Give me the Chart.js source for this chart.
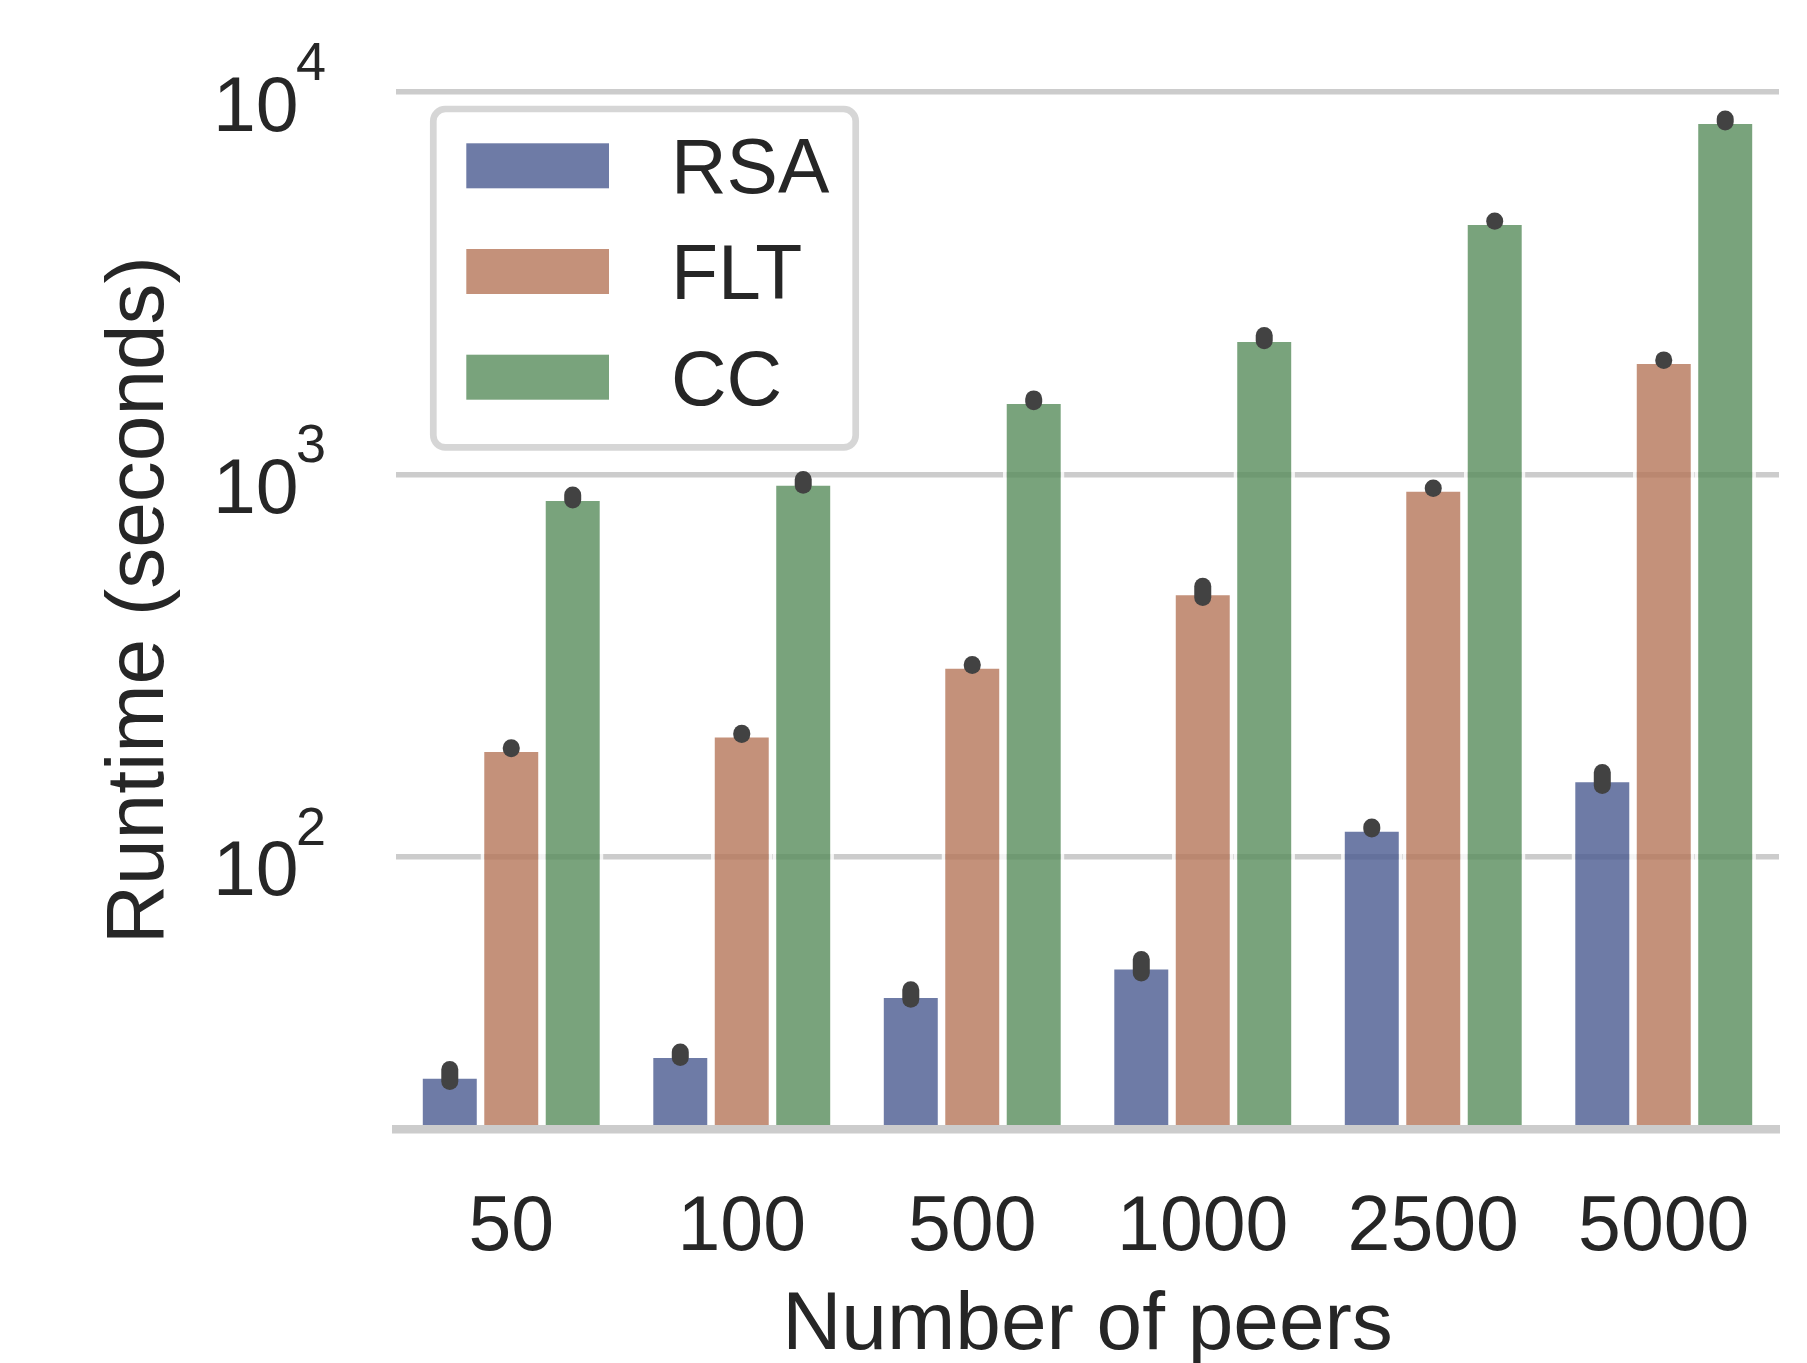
<!DOCTYPE html>
<html>
<head>
<meta charset="utf-8">
<script src="https://cdn.jsdelivr.net/npm/chart.js@4.4.1/dist/chart.umd.min.js"></script>
<style>
  html, body { margin: 0; padding: 0; background: #fff; }
  #wrap { width: 1807px; height: 1363px; }
</style>
</head>
<body>
<div id="wrap"><canvas id="runtime-chart" width="1807" height="1363"></canvas></div>
<script>
// x categories
const peers = ['50', '100', '500', '1000', '2500', '5000'];

// mean runtime (seconds) per series
const rsaMean = [26.8, 30.4, 43.6, 51.8, 118.7, 160.1];
const fltMean = [191.9, 209.5, 316.8, 493.9, 920, 1989];
const ccMean = [871, 954, 1563, 2271, 4594, 8443];

// error bar ends
const rsaLow = [25.8, 29.8, 42.3, 49.6, 118.0, 153.4];
const rsaHigh = [27.7, 30.8, 44.8, 53.8, 119.4, 165.9];
const fltLow = [191.5, 208.5, 316, 476, 918, 1985];
const fltHigh = [192.5, 210, 318, 509.7, 921, 1992];
const ccLow = [857, 936, 1547, 2234, 4590, 8354];
const ccHigh = [883, 968.5, 1575, 2306, 4600, 8505];

// y axis
const yTicks = [100, 1000, 10000];
const yMin = 19.31;
const yMax = 11366;

const family = '"Liberation Sans", Arial, Helvetica, sans-serif';
const textColor = '#262626';

// error bars drawn on top of the bars, through the chart's own scales
const errorBars = {
    id: 'errorBars',
    afterDatasetsDraw(chart) {
        const ctx = chart.ctx;
        const yScale = chart.scales.y;
        ctx.save();
        ctx.strokeStyle = '#424242';
        ctx.lineWidth = 17;
        ctx.lineCap = 'round';
        chart.data.datasets.forEach((ds, i) => {
            const meta = chart.getDatasetMeta(i);
            meta.data.forEach((bar, j) => {
                const y1 = yScale.getPixelForValue(ds.errLow[j]);
                const y2 = yScale.getPixelForValue(ds.errHigh[j]);
                ctx.beginPath();
                ctx.moveTo(bar.x, y1);
                ctx.lineTo(bar.x, y2);
                ctx.stroke();
            });
        });
        ctx.restore();
    }
};

// 10^n tick labels with a raised exponent
const logTickLabels = {
    id: 'logTickLabels',
    afterDraw(chart) {
        const ctx = chart.ctx;
        const scale = chart.scales.y;
        ctx.save();
        ctx.fillStyle = textColor;
        ctx.textAlign = 'left';
        ctx.textBaseline = 'alphabetic';
        scale.ticks.forEach(t => {
            const y = scale.getPixelForValue(t.value);
            const exp = Math.round(Math.log10(t.value));
            ctx.font = `77px ${family}`;
            ctx.fillText('10', scale.right - 183, y + 38.6);
            ctx.font = `54px ${family}`;
            ctx.fillText(String(exp), scale.right - 100, y - 12);
        });
        ctx.restore();
    }
};

// legend box in the upper left of the plot
const boxLegend = {
    id: 'boxLegend',
    afterDraw(chart) {
        const ctx = chart.ctx;
        const x = 433.3, y = 109, w = 422.4, h = 338.3, r = 12;
        ctx.save();
        ctx.beginPath();
        ctx.moveTo(x + r, y);
        ctx.lineTo(x + w - r, y);
        ctx.arcTo(x + w, y, x + w, y + r, r);
        ctx.lineTo(x + w, y + h - r);
        ctx.arcTo(x + w, y + h, x + w - r, y + h, r);
        ctx.lineTo(x + r, y + h);
        ctx.arcTo(x, y + h, x, y + h - r, r);
        ctx.lineTo(x, y + r);
        ctx.arcTo(x, y, x + r, y, r);
        ctx.closePath();
        ctx.fillStyle = 'rgba(255,255,255,0.8)';
        ctx.fill();
        ctx.strokeStyle = 'rgba(204,204,204,0.8)';
        ctx.lineWidth = 6.7;
        ctx.stroke();

        ctx.font = `77px ${family}`;
        ctx.textAlign = 'left';
        ctx.textBaseline = 'alphabetic';
        chart.data.datasets.forEach((ds, i) => {
            const top = 143.3 + i * 105.7;
            ctx.fillStyle = ds.backgroundColor;
            ctx.fillRect(466.3, top, 142.7, 45);
            ctx.fillStyle = textColor;
            ctx.fillText(ds.label, 671, top + 50);
        });
        ctx.restore();
    }
};

function makeDataset(label, values, low, high, color) {
    return {
        label: label,
        data: values,
        errLow: low,
        errHigh: high,
        backgroundColor: color,
        borderColor: 'rgba(255,255,255,0.8)',
        borderWidth: 3.75,
        borderSkipped: 'start',
        barPercentage: 1.0,
        categoryPercentage: 0.8
    };
}

const ctx = document.getElementById('runtime-chart').getContext('2d');
new Chart(ctx, {
    type: 'bar',
    data: {
        labels: peers,
        datasets: [
            makeDataset('RSA', rsaMean, rsaLow, rsaHigh, 'rgba(74,90,144,0.8)'),
            makeDataset('FLT', fltMean, fltLow, fltHigh, 'rgba(181,118,89,0.8)'),
            makeDataset('CC', ccMean, ccLow, ccHigh, 'rgba(87,140,91,0.8)')
        ]
    },
    options: {
        responsive: false,
        animation: false,
        devicePixelRatio: 1,
        layout: { padding: { left: 0, right: 28, top: 70.8, bottom: 0 } },
        plugins: {
            legend: { display: false },
            tooltip: { enabled: false }
        },
        scales: {
            x: {
                grid: { display: false, drawTicks: false },
                border: { display: true, color: '#cccccc', width: 8.4, z: 1 },
                ticks: {
                    color: textColor,
                    font: { family: family, size: 77, lineHeight: 1.156 },
                    padding: 55,
                    maxRotation: 0
                },
                title: {
                    display: true,
                    text: 'Number of peers',
                    color: textColor,
                    font: { family: family, size: 82, lineHeight: 1 },
                    padding: { top: 0, bottom: -4 }
                },
                afterFit: (scale) => { scale.height = 233.5; }
            },
            y: {
                type: 'logarithmic',
                min: yMin,
                max: yMax,
                afterBuildTicks: (scale) => { scale.ticks = yTicks.map(v => ({ value: v })); },
                afterFit: (scale) => { scale.width = 396; },
                ticks: { display: false },
                grid: { color: '#cccccc', lineWidth: 5.5, drawTicks: false },
                border: { display: false },
                title: {
                    display: true,
                    text: 'Runtime (seconds)',
                    color: textColor,
                    font: { family: family, size: 82, lineHeight: 1 },
                    padding: { top: 99, bottom: 0 }
                }
            }
        }
    },
    plugins: [errorBars, logTickLabels, boxLegend]
});
</script>
</body>
</html>
